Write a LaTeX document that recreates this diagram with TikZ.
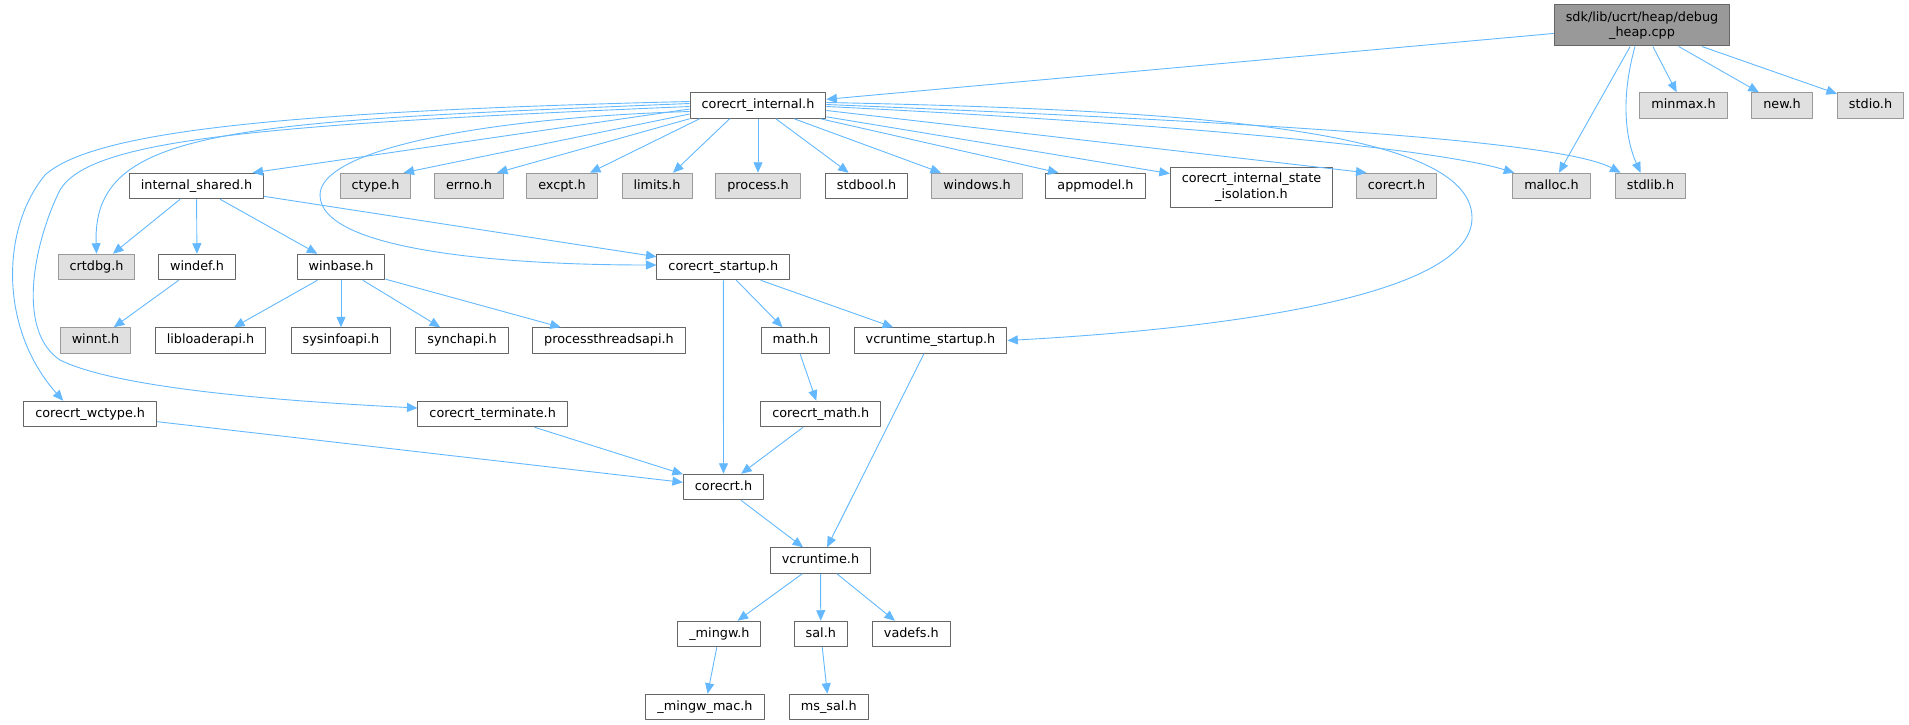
\documentclass[tikz,border=0pt]{standalone}
\usepackage{fontspec}
\setmainfont{DejaVu Sans}
\usetikzlibrary{arrows.meta}
\definecolor{linkblue}{HTML}{63B8FF}
\begin{document}
\begin{tikzpicture}[>={Triangle[length=10.5pt,width=9pt]}, line join=round, x=1pt, y=-1pt,
    font=\fontsize{12.8}{15.5}\selectfont,
    hdr/.style={draw=black!60, fill=white, line width=1pt, inner xsep=11.5pt, inner ysep=0pt, minimum height=25.5pt, text height=9.4pt, text depth=3pt, align=center},
    ext/.style={hdr, draw=black!40, fill=black!12},
    twoline/.style={text height={}, text depth={}, minimum height=41pt},
    root/.style={hdr, twoline, fill=black!40},
    dep/.style={->, draw=linkblue, line width=0.9pt}]
    \useasboundingbox (0,0) rectangle (1909,725);
    \node[root] (heap) at (1642,25.5) {sdk/lib/ucrt/heap/debug\\\_heap.cpp};
    \node[hdr] (internal) at (758,105.5) {corecrt\_internal.h};
    \node[ext] (minmax) at (1683.5,105.5) {minmax.h};
    \node[ext] (new) at (1782,105.5) {new.h};
    \node[ext] (stdio) at (1870.5,105.5) {stdio.h};
    \node[hdr] (shared) at (196.5,186) {internal\_shared.h};
    \node[ext] (ctype) at (375.5,186) {ctype.h};
    \node[ext] (errno) at (469,186) {errno.h};
    \node[ext] (excpt) at (562,186) {excpt.h};
    \node[ext] (limits) at (657,186) {limits.h};
    \node[ext] (process) at (758,186) {process.h};
    \node[hdr] (stdbool) at (866.5,186) {stdbool.h};
    \node[ext] (windows) at (977,186) {windows.h};
    \node[hdr] (appmodel) at (1095.5,186) {appmodel.h};
    \node[hdr, twoline, minimum height=40pt] (isolation) at (1251.5,187) {corecrt\_internal\_state\\\_isolation.h};
    \node[ext] (corecrtx) at (1396.5,186) {corecrt.h};
    \node[ext] (malloc) at (1551.5,186) {malloc.h};
    \node[ext] (stdlib) at (1650.5,186) {stdlib.h};
    \node[ext] (crtdbg) at (96.5,267) {crtdbg.h};
    \node[hdr] (windef) at (197,267) {windef.h};
    \node[hdr] (winbase) at (341,267) {winbase.h};
    \node[hdr] (startup) at (723.3,267) {corecrt\_startup.h};
    \node[ext] (winnt) at (95.5,340.5) {winnt.h};
    \node[hdr] (libloader) at (210.5,340.5) {libloaderapi.h};
    \node[hdr] (sysinfo) at (341,340.5) {sysinfoapi.h};
    \node[hdr] (synch) at (462,340.5) {synchapi.h};
    \node[hdr] (procthread) at (609,340.5) {processthreadsapi.h};
    \node[hdr] (math) at (795.5,340.5) {math.h};
    \node[hdr] (vcstartup) at (930.5,340.5) {vcruntime\_startup.h};
    \node[hdr] (wctype) at (90.2,414) {corecrt\_wctype.h};
    \node[hdr] (terminate) at (492.7,414) {corecrt\_terminate.h};
    \node[hdr] (cmath) at (820.8,414) {corecrt\_math.h};
    \node[hdr] (corecrt) at (723.5,487) {corecrt.h};
    \node[hdr] (vcruntime) at (820.5,560.5) {vcruntime.h};
    \node[hdr] (mingw) at (719.4,634) {\_mingw.h};
    \node[hdr] (sal) at (820.8,634) {sal.h};
    \node[hdr] (vadefs) at (911.3,634) {vadefs.h};
    \node[hdr] (mingwmac) at (705,707) {\_mingw\_mac.h};
    \node[hdr] (mssal) at (828.8,707) {ms\_sal.h};
    % from the source file
    \draw[dep] (heap) -- (internal);
    \draw[dep] (heap) -- (malloc);
    \draw[dep] ([xshift=-7pt]heap.south) .. controls (1620,100) and (1626,140) .. ([xshift=-10pt]stdlib.north);
    \draw[dep] (heap) -- (minmax);
    \draw[dep] (heap) -- (new);
    \draw[dep] (heap) -- (stdio);
    % corecrt_internal.h, left side
    \draw[dep] ([yshift=2pt]internal.west) .. controls (230,122) and (92,128) .. (crtdbg.north);
    \draw[dep] ([yshift=4pt]internal.west) .. controls (250,112) and (90,135) .. (45,175) .. controls (0,230) and (0,330) .. ([xshift=-27pt]wctype.north);
    \draw[dep] ([yshift=-1pt]internal.west) .. controls (250,125) and (90,140) .. (60,190) .. controls (35,240) and (15,330) .. (60,360) .. controls (120,390) and (300,402) .. ([yshift=6pt]terminate.west);
    \draw[dep] ([yshift=-6pt]internal.west) .. controls (480,118) and (320,150) .. (320,195) .. controls (320,250) and (500,265) .. ([yshift=2pt]startup.west);
    \draw[dep] ([yshift=-3.5pt]internal.west) -- ([xshift=56pt]shared.north);
    \draw[dep] ([yshift=-8.5pt]internal.west) -- ([xshift=28pt]ctype.north);
    \draw[dep] (internal.south west) -- ([xshift=28pt]errno.north);
    \draw[dep] ([xshift=10pt]internal.south west) -- ([xshift=28pt]excpt.north);
    \draw[dep] ([xshift=40pt]internal.south west) -- ([xshift=16pt]limits.north);
    \draw[dep] (internal) -- (process);
    % corecrt_internal.h, right side
    \draw[dep] (internal) -- (stdbool);
    \draw[dep] (internal) -- (windows);
    \draw[dep] ([xshift=-6pt]internal.south east) -- ([xshift=-37pt]appmodel.north);
    \draw[dep] (internal) -- (isolation);
    \draw[dep] ([yshift=-5pt]internal.east) -- ([xshift=-30pt]corecrtx.north);
    \draw[dep] ([yshift=-1pt]internal.east) .. controls (1200,125) and (1440,150) .. ([xshift=2pt]malloc.north west);
    \draw[dep] ([yshift=1pt]internal.east) .. controls (1250,122) and (1560,140) .. ([xshift=-30pt]stdlib.north);
    \draw[dep] ([yshift=3pt]internal.east) .. controls (1200,110) and (1470,130) .. (1472,217) .. controls (1474,300) and (1200,330) .. (vcstartup.east);
    % internal_shared.h and winbase.h
    \draw[dep] (shared) -- (crtdbg);
    \draw[dep] (shared) -- (windef);
    \draw[dep] (shared) -- (winbase);
    \draw[dep] (shared) -- (startup);
    \draw[dep] (windef) -- (winnt);
    \draw[dep] (winbase) -- (libloader);
    \draw[dep] (winbase) -- (sysinfo);
    \draw[dep] (winbase) -- (synch);
    \draw[dep] (winbase) -- (procthread);
    % lower part
    \draw[dep] (startup) -- (corecrt);
    \draw[dep] (startup) -- (math);
    \draw[dep] (startup) -- (vcstartup);
    \draw[dep] (math) -- (cmath);
    \draw[dep] (cmath) -- (corecrt);
    \draw[dep] (terminate) -- (corecrt);
    \draw[dep] (wctype) -- (corecrt);
    \draw[dep] (vcstartup) -- (vcruntime);
    \draw[dep] (corecrt) -- (vcruntime);
    \draw[dep] (vcruntime) -- (mingw);
    \draw[dep] (vcruntime) -- (sal);
    \draw[dep] (vcruntime) -- (vadefs);
    \draw[dep] (mingw) -- (mingwmac);
    \draw[dep] (sal) -- (mssal);
\end{tikzpicture}
\end{document}
